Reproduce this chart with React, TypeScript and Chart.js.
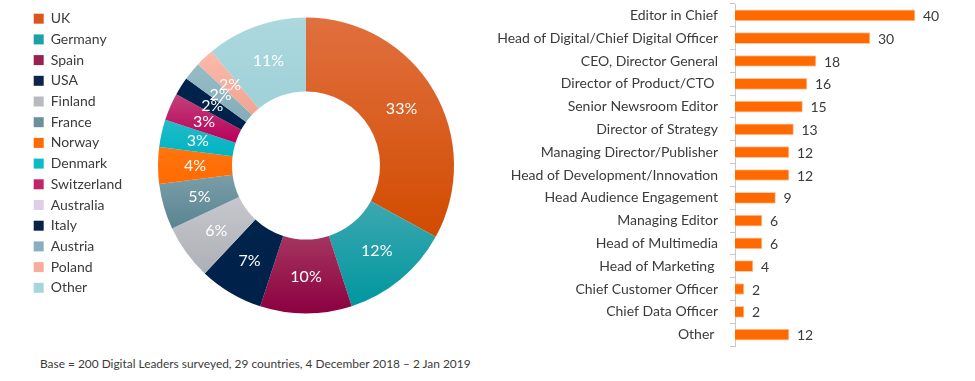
import React, { useEffect, useRef } from 'react';
import { Chart, registerables } from 'chart.js';

Chart.register(...registerables);

const COUNTRIES = ['UK', 'Germany', 'Spain', 'USA', 'Finland', 'France', 'Norway', 'Denmark', 'Switzerland', 'Australia', 'Italy', 'Austria', 'Poland', 'Other'];
const COUNTRY_SHARE = [33, 12, 10, 7, 6, 5, 4, 3, 3, 0, 2, 2, 2, 11];
const TOP_COLORS = ['#E0703F', '#3DA7B0', '#A5355F', '#00234B', '#C6C7CC', '#7A9EA8', '#FF7510', '#20BCC8', '#C3417A', '#DCD0E5', '#00234B', '#97BCC6', '#FCBAAA', '#ACD8DE'];
const BOTTOM_COLORS = ['#D24B00', '#00979F', '#8C0040', '#00214A', '#AEB0B7', '#5A8491', '#FF6A00', '#00B4C2', '#B8005A', '#D5C6DF', '#00214A', '#84ADB9', '#F0A592', '#9FD1D8'];
const LEGEND_COLORS = ['#D9561C', '#1BA1AA', '#97214F', '#0E2448', '#B8BAC0', '#6A909B', '#FF6A00', '#0EBAC7', '#BE2669', '#DDD0E6', '#0A2148', '#88B0BC', '#F8AC9C', '#A6D6DC'];

const ROLES = [
  'Editor in Chief',
  'Head of Digital/Chief Digital Officer',
  'CEO, Director General',
  'Director of Product/CTO ',
  'Senior Newsroom Editor',
  'Director of Strategy',
  'Managing Director/Publisher',
  'Head of Development/Innovation',
  'Head Audience Engagement',
  'Managing Editor',
  'Head of Multimedia',
  'Head of Marketing ',
  'Chief Customer Officer',
  'Chief Data Officer',
  'Other ',
];
const ROLE_COUNTS = [40, 30, 18, 16, 15, 13, 12, 12, 9, 6, 6, 4, 2, 2, 12];
const ROLE_AXIS_MAX = 50;

const FOOTNOTE = 'Base = 200 Digital Leaders surveyed, 29 countries, 4 December 2018 – 2 Jan 2019';

const FONT = 'Lato';
const TEXT_COLOR = '#3b3b3b';
const OUTER_R = 148;

function sliceGradient(ctx: any) {
  const chart = ctx.chart;
  const i = ctx.dataIndex;
  const area = chart.chartArea;
  if (i === undefined || !area) return BOTTOM_COLORS[0];
  const data = chart.data.datasets[0].data as number[];
  const total = data.reduce((a: number, b: number) => a + b, 0);
  let start = 0;
  for (let k = 0; k < i; k++) start += data[k];
  const a0 = (start / total) * 2 * Math.PI;
  const a1 = ((start + data[i]) / total) * 2 * Math.PI;
  const cy = (area.top + area.bottom) / 2;
  const ro = OUTER_R;
  const ri = OUTER_R * 0.5;
  const ys: number[] = [];
  for (const a of [a0, a1]) for (const r of [ri, ro]) ys.push(cy - r * Math.cos(a));
  if (a0 <= 0 || a1 >= 2 * Math.PI - 1e-9) ys.push(cy - ro);
  if (a0 <= Math.PI && a1 >= Math.PI) ys.push(cy + ro);
  const y0 = Math.min(...ys);
  let y1 = Math.max(...ys);
  if (y1 - y0 < 1) y1 = y0 + 1;
  const g = chart.ctx.createLinearGradient(0, y0, 0, y1);
  g.addColorStop(0, TOP_COLORS[i]);
  g.addColorStop(1, BOTTOM_COLORS[i]);
  return g;
}

const donutLabels = {
  id: 'donutLabels',
  afterDatasetsDraw(chart: any) {
    const meta = chart.getDatasetMeta(0);
    const c = chart.ctx;
    c.save();
    c.font = `16px ${FONT}`;
    c.fillStyle = '#ffffff';
    c.textAlign = 'center';
    c.textBaseline = 'middle';
    meta.data.forEach((arc: any, i: number) => {
      const v = COUNTRY_SHARE[i];
      if (!v) return;
      const p = arc.tooltipPosition();
      c.fillText(`${v}%`, p.x, p.y);
    });
    c.restore();
  },
};

const barValueLabels = {
  id: 'barValueLabels',
  afterDatasetsDraw(chart: any) {
    const meta = chart.getDatasetMeta(0);
    const c = chart.ctx;
    c.save();
    c.font = `14px ${FONT}`;
    c.fillStyle = TEXT_COLOR;
    c.textAlign = 'left';
    c.textBaseline = 'middle';
    meta.data.forEach((bar: any, i: number) => {
      c.fillText(String(ROLE_COUNTS[i]), bar.x + 8, bar.y + 1);
    });
    c.restore();
  },
};

export default function App() {
  const donutRef = useRef<HTMLCanvasElement>(null);
  const barRef = useRef<HTMLCanvasElement>(null);

  useEffect(() => {
    Chart.defaults.font.family = FONT;
    const donut = new Chart(donutRef.current!, {
      type: 'doughnut',
      data: {
        labels: COUNTRIES,
        datasets: [
          {
            data: COUNTRY_SHARE,
            backgroundColor: sliceGradient as any,
            borderWidth: 0,
          },
        ],
      },
      options: {
        responsive: false,
        animation: false,
        cutout: '50%',
        radius: OUTER_R,
        layout: { padding: { top: 5, left: 27, bottom: 14, right: 10 } },
        plugins: {
          tooltip: { enabled: false },
          legend: {
            position: 'left',
            align: 'start',
            labels: {
              boxWidth: 10,
              boxHeight: 10,
              padding: 6.7,
              color: TEXT_COLOR,
              font: { size: 14, family: FONT },
              generateLabels: () =>
                COUNTRIES.map((t, i) => ({
                  text: t,
                  fillStyle: LEGEND_COLORS[i],
                  strokeStyle: LEGEND_COLORS[i],
                  lineWidth: 0,
                  hidden: false,
                  index: i,
                  fontColor: TEXT_COLOR,
                })) as any,
            },
          },
        },
      } as any,
      plugins: [donutLabels],
    });

    const bar = new Chart(barRef.current!, {
      type: 'bar',
      data: {
        labels: ROLES,
        datasets: [
          {
            data: ROLE_COUNTS,
            backgroundColor: '#FF6A00',
            borderColor: '#FFC8A6',
            borderWidth: 1,
            barThickness: 11,
          },
        ],
      },
      options: {
        indexAxis: 'y',
        responsive: false,
        animation: false,
        layout: { padding: { top: 4, bottom: 4, left: 0, right: 15 } },
        plugins: { legend: { display: false }, tooltip: { enabled: false } },
        scales: {
          x: { display: false, min: 0, max: ROLE_AXIS_MAX },
          y: {
            afterFit: (s: any) => {
              s.width = 255;
              s.paddingTop = 0;
              s.paddingBottom = 0;
            },
            grid: { display: true, drawOnChartArea: false, drawTicks: true, tickLength: 5, color: '#c8c8c8', offset: true },
            border: { display: true, color: '#c8c8c8' },
            ticks: { color: TEXT_COLOR, font: { size: 14, family: FONT }, padding: 12, autoSkip: false },
          },
        },
      } as any,
      plugins: [barValueLabels],
    });

    return () => {
      donut.destroy();
      bar.destroy();
    };
  }, []);

  return (
    <div style={{ position: 'absolute', left: 0, top: 0, width: 975, height: 381, background: '#fff' }}>
      <canvas ref={donutRef} width={490} height={340} style={{ position: 'absolute', left: 0, top: 0, width: 490, height: 340 }} />
      <canvas ref={barRef} width={495} height={350} style={{ position: 'absolute', left: 480, top: 0, width: 495, height: 350 }} />
      <div
        style={{
          position: 'absolute',
          left: 40,
          top: 356,
          fontFamily: FONT,
          fontSize: 11.9,
          lineHeight: '16px',
          color: TEXT_COLOR,
          whiteSpace: 'nowrap',
        }}
      >
        {FOOTNOTE}
      </div>
    </div>
  );
}
